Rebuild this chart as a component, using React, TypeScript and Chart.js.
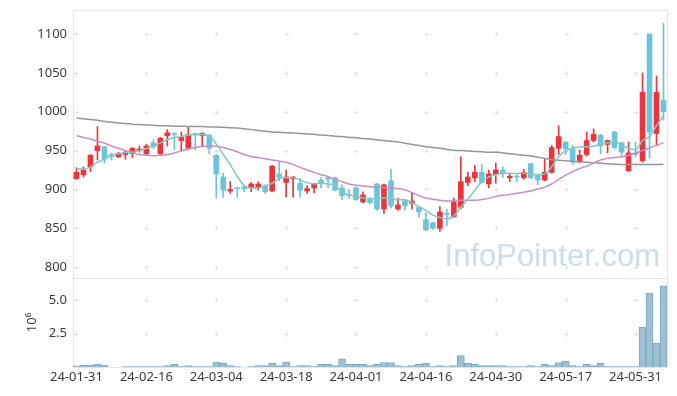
import React, { useEffect, useRef } from 'react';
import { Chart, registerables } from 'chart.js';

Chart.register(...registerables);

const dates = [
  '24-01-31', '24-02-01', '24-02-02', '24-02-05', '24-02-06', '24-02-07', '24-02-08', '24-02-13', '24-02-14', '24-02-15',
  '24-02-16', '24-02-19', '24-02-20', '24-02-21', '24-02-22', '24-02-23', '24-02-26', '24-02-27', '24-02-28', '24-02-29',
  '24-03-04', '24-03-05', '24-03-06', '24-03-07', '24-03-08', '24-03-11', '24-03-12', '24-03-13', '24-03-14', '24-03-15',
  '24-03-18', '24-03-19', '24-03-20', '24-03-21', '24-03-22', '24-03-25', '24-03-26', '24-03-27', '24-03-28', '24-03-29',
  '24-04-01', '24-04-02', '24-04-03', '24-04-04', '24-04-05', '24-04-08', '24-04-09', '24-04-11', '24-04-12', '24-04-15',
  '24-04-16', '24-04-17', '24-04-18', '24-04-19', '24-04-22', '24-04-23', '24-04-24', '24-04-25', '24-04-26', '24-04-29',
  '24-04-30', '24-05-02', '24-05-03', '24-05-07', '24-05-08', '24-05-09', '24-05-10', '24-05-13', '24-05-14', '24-05-16',
  '24-05-17', '24-05-20', '24-05-21', '24-05-22', '24-05-23', '24-05-24', '24-05-27', '24-05-28', '24-05-29', '24-05-30',
  '24-05-31', '24-06-03', '24-06-04', '24-06-05', '24-06-07',
];

const openP = [
  914, 919, 929, 950, 955, 945, 942, 945, 946, 950,
  946, 960, 946, 969, 972, 963, 953, 972, 969, 970,
  944, 916, 898, 902, 903, 902, 902, 904, 898, 920,
  909, 914, 908, 898, 902, 912, 915, 915, 902, 893,
  902, 884, 888, 907, 875, 911, 875, 885, 882, 877,
  861, 857, 850, 869, 865, 877, 909, 915, 922, 907,
  919, 925, 915, 917, 915, 933, 919, 912, 922, 953,
  961, 952, 936, 945, 963, 970, 958, 974, 960, 924,
  947, 937, 1100, 972, 1015,
];
const highP = [
  928, 929, 945, 981, 955, 947, 948, 950, 954, 956,
  958, 964, 967, 977, 973, 974, 981, 973, 973, 971,
  945, 921, 910, 903, 904, 909, 910, 906, 931, 935,
  925, 917, 914, 905, 908, 916, 916, 916, 906, 900,
  903, 897, 890, 908, 907, 926, 889, 886, 896, 878,
  870, 858, 878, 874, 889, 942, 922, 931, 932, 925,
  934, 929, 921, 919, 926, 934, 920, 939, 957, 982,
  962, 957, 951, 974, 978, 971, 964, 975, 961, 961,
  961, 1050, 1100, 1046, 1114,
];
const lowP = [
  913, 916, 923, 938, 934, 938, 941, 939, 941, 948,
  944, 953, 944, 956, 951, 950, 951, 951, 955, 946,
  889, 890, 895, 890, 897, 897, 899, 895, 897, 911,
  890, 890, 890, 895, 896, 902, 902, 898, 887, 888,
  886, 883, 881, 873, 869, 876, 873, 873, 875, 864,
  847, 849, 846, 853, 864, 875, 905, 910, 908, 902,
  908, 915, 910, 910, 913, 914, 906, 911, 921, 945,
  945, 932, 934, 943, 961, 946, 947, 952, 944, 923,
  942, 935, 940, 956, 989,
];
const closeP = [
  922, 925, 944, 956, 939, 942, 946, 948, 953, 952,
  956, 955, 966, 973, 971, 967, 971, 970, 972, 953,
  920, 899, 900, 901, 901, 907, 907, 897, 930, 916,
  916, 916, 899, 901, 907, 908, 913, 899, 892, 892,
  887, 893, 883, 875, 906, 879, 880, 879, 885, 871,
  848, 850, 871, 868, 884, 910, 916, 922, 909, 920,
  925, 922, 917, 916, 922, 915, 912, 922, 954, 968,
  952, 936, 944, 963, 971, 956, 963, 954, 948, 947,
  945, 1025, 974, 1025, 1000,
];

// volume in shares
const volume = [
  80000, 140000, 140000, 200000, 120000, 0, 0, 40000, 40000, 40000,
  40000, 40000, 40000, 110000, 200000, 40000, 110000, 40000, 40000, 40000,
  370000, 280000, 110000, 30000, 0, 30000, 110000, 110000, 280000, 110000,
  370000, 40000, 110000, 110000, 40000, 200000, 200000, 110000, 620000, 200000,
  200000, 200000, 110000, 200000, 340000, 340000, 110000, 30000, 110000, 200000,
  280000, 30000, 110000, 30000, 110000, 860000, 280000, 200000, 110000, 110000,
  110000, 110000, 30000, 30000, 30000, 110000, 30000, 200000, 110000, 340000,
  430000, 110000, 30000, 200000, 110000, 280000, 30000, 30000, 30000, 30000,
  30000, 3000000, 5550000, 1800000, 6100000,
];

const ma5 = [
  927, 926, 929, 935, 939, 944, 946, 947.5, 948, 950,
  953, 955.5, 960, 964, 967, 968, 970, 971, 970.5, 968.5,
  958.5, 945, 932, 917, 905, 902, 902, 905, 908, 914,
  915, 915.5, 912, 909, 907, 908, 907, 905, 897, 893,
  891, 889, 887.5, 888, 889, 888, 886.6, 886.6, 883, 878,
  873, 867, 864, 862, 866, 877, 887.5, 899, 910, 916,
  919, 921, 920.5, 920.5, 921, 920, 918.7, 920, 929, 942,
  950, 953, 954.5, 955, 956, 958, 960, 962, 957, 953,
  951, 963, 968, 982, 995,
];
const ma20 = [
  969, 967, 965, 962, 959.5, 956, 953, 950, 947.5, 945,
  944, 943.5, 944, 945, 947, 949.5, 952, 954, 955.5, 956,
  955.5, 954, 951.5, 948.5, 945, 942.5, 941, 939.5, 938, 936.5,
  935, 932, 928.5, 925, 922, 919, 916.5, 913, 910, 907,
  905.5, 904.5, 903.5, 903, 902.5, 902, 901, 899.5, 896, 892,
  889, 887.5, 886, 885, 885.5, 886, 886, 886, 887, 888.5,
  891, 892.5, 893.5, 895, 896.5, 898, 900.5, 903, 907, 913,
  918.5, 923, 927, 930, 934, 938, 940, 941, 942, 944,
  947, 950, 953.5, 957, 960,
];
const ma60 = [
  992, 991, 990, 989, 987.5, 986.5, 985.5, 985, 984, 983.5,
  983, 982.5, 982, 982, 981.5, 981.5, 981, 981, 981, 980.5,
  980.5, 980, 979.5, 979, 978, 977, 976, 975, 974, 973.5,
  973, 972.5, 972, 971.5, 971, 970, 969.5, 968.5, 968, 967,
  966.5, 965.5, 965, 964, 963, 962, 961, 959.5, 958, 956.5,
  955, 954, 953, 951.5, 950.5, 950, 949.5, 949, 948.5, 948,
  948, 947, 946, 945, 944, 943, 941.5, 940, 938.5, 937.5,
  937, 936, 935.5, 935, 934.5, 934, 933, 932.5, 932, 932,
  932, 932, 932, 932, 932,
];

const priceTicks = [800, 850, 900, 950, 1000, 1050, 1100];
const volumeTicks = [2500000, 5000000];

const UP = 'rgb(238,52,58)';
const DOWN = 'rgb(106,196,220)';
const TICK_FONT = { family: '"Noto Sans", "Open Sans", sans-serif', size: 13 };
const TEXT_COLOR = '#3a3a3a';

const decorPlugin = {
  id: 'decor',
  beforeDatasetsDraw(chart: any) {
    const { ctx, scales } = chart;
    const x = scales.x;
    const yp = scales.y;
    const yv = scales.yv;
    ctx.save();
    // panel borders
    ctx.strokeStyle = '#e4e4e4';
    ctx.lineWidth = 1;
    const L = Math.round(x.left) + 0.5;
    const R = Math.round(x.right) + 0.5;
    ctx.strokeRect(L, Math.round(yp.top) + 0.5, R - L, Math.round(yp.bottom) - Math.round(yp.top));
    ctx.strokeRect(L, Math.round(yv.top) + 0.5, R - L, Math.round(yv.bottom) - Math.round(yv.top));
    // cross markers at grid intersections
    ctx.strokeStyle = '#dedede';
    const xs: number[] = [];
    for (let i = 0; i < dates.length; i += 10) xs.push(x.getPixelForValue(i));
    const ys: number[] = [];
    yp.ticks.forEach((t: any) => ys.push(yp.getPixelForValue(t.value)));
    yv.ticks.forEach((t: any) => ys.push(yv.getPixelForValue(t.value)));
    ctx.beginPath();
    xs.forEach((px) => {
      ys.forEach((py) => {
        const cx = Math.round(px) + 0.5;
        const cy = Math.round(py) + 0.5;
        ctx.moveTo(cx - 2, cy);
        ctx.lineTo(cx + 2, cy);
        ctx.moveTo(cx, cy - 2);
        ctx.lineTo(cx, cy + 2);
      });
    });
    ctx.stroke();
    // watermark
    ctx.font = '31px "Liberation Sans", Arial, sans-serif';
    ctx.fillStyle = 'rgba(180,206,222,0.7)';
    ctx.textAlign = 'right';
    ctx.textBaseline = 'alphabetic';
    ctx.fillText('InfoPointer.com', x.right - 7, yp.bottom - 12, 218);
    ctx.restore();
  },
};

const noPad = (s: any) => {
  s.paddingTop = 0;
  s.paddingBottom = 0;
  s.paddingLeft = 0;
  s.paddingRight = 0;
};

export default function App() {
  const ref = useRef<HTMLCanvasElement | null>(null);

  useEffect(() => {
    if (!ref.current) return;
    const colors = closeP.map((c, i) => (c >= openP[i] ? UP : DOWN));
    const chart = new Chart(ref.current, {
      type: 'bar',
      data: {
        labels: dates,
        datasets: [
          {
            type: 'line',
            label: 'MA5',
            data: ma5,
            yAxisID: 'y',
            borderColor: 'rgb(128,202,192)',
            borderWidth: 1.5,
            pointRadius: 0,
            cubicInterpolationMode: 'monotone',
            order: 0,
          } as any,
          {
            type: 'line',
            label: 'MA20',
            data: ma20,
            yAxisID: 'y',
            borderColor: 'rgb(202,140,196)',
            borderWidth: 1.5,
            pointRadius: 0,
            cubicInterpolationMode: 'monotone',
            order: 0,
          } as any,
          {
            type: 'line',
            label: 'MA60',
            data: ma60,
            yAxisID: 'y',
            borderColor: 'rgb(150,150,150)',
            borderWidth: 1.5,
            pointRadius: 0,
            cubicInterpolationMode: 'monotone',
            order: 0,
          } as any,
          {
            label: 'body',
            data: openP.map((o, i) => [Math.min(o, closeP[i]), Math.max(o, closeP[i])]),
            yAxisID: 'y',
            backgroundColor: colors,
            borderWidth: 0,
            barThickness: 5,
            minBarLength: 1,
            grouped: false,
            order: 1,
          } as any,
          {
            label: 'wick',
            data: lowP.map((l, i) => [l, highP[i]]),
            yAxisID: 'y',
            backgroundColor: colors,
            borderWidth: 0,
            barThickness: 1,
            grouped: false,
            order: 2,
          } as any,
          {
            label: 'volume',
            data: volume,
            yAxisID: 'yv',
            backgroundColor: 'rgb(157,193,211)',
            borderColor: 'rgb(122,167,190)',
            borderWidth: 1,
            barPercentage: 1,
            categoryPercentage: 1,
            grouped: false,
            order: 3,
          } as any,
        ],
      },
      options: {
        animation: false,
        responsive: false,
        maintainAspectRatio: false,
        layout: { padding: { top: 10, right: 10, left: 0, bottom: 0 } },
        plugins: { legend: { display: false }, tooltip: { enabled: false } },
        scales: {
          x: {
            type: 'category',
            offset: true,
            grid: { display: false, drawTicks: false },
            border: { display: false },
            ticks: {
              autoSkip: false,
              maxRotation: 0,
              minRotation: 0,
              padding: 2,
              font: TICK_FONT,
              color: TEXT_COLOR,
              callback: (_v: any, i: number) => (i % 10 === 0 ? dates[i] : ''),
            },
            afterFit: (s: any) => { s.height = 29; noPad(s); },
          },
          yv: {
            type: 'linear',
            position: 'left',
            stack: 'panes',
            stackWeight: 1,
            min: 0,
            max: 6680000,
            grid: { display: false, drawTicks: false },
            border: { display: false },
            afterBuildTicks: (s: any) => { s.ticks = volumeTicks.map((v) => ({ value: v })); },
            ticks: {
              padding: 6,
              font: TICK_FONT,
              color: TEXT_COLOR,
              callback: (v: any) => (v / 1000000).toFixed(1),
            },
            title: {
              display: true,
              text: '10\u2076',
              color: TEXT_COLOR,
              font: TICK_FONT,
              padding: { top: 24, bottom: 0 },
            },
            afterFit: (s: any) => { s.width = 73; noPad(s); },
          },
          y: {
            type: 'linear',
            position: 'left',
            stack: 'panes',
            stackWeight: 3.011,
            min: 786,
            max: 1131,
            grid: { display: false, drawTicks: false },
            border: { display: false },
            afterBuildTicks: (s: any) => { s.ticks = priceTicks.map((v) => ({ value: v })); },
            ticks: {
              padding: 6,
              font: TICK_FONT,
              color: TEXT_COLOR,
              callback: (v: any) => String(v),
            },
            afterFit: (s: any) => { s.width = 73; noPad(s); },
          },
        },
      } as any,
      plugins: [decorPlugin],
    });
    return () => chart.destroy();
  }, []);

  return (
    <div style={{ position: 'fixed', left: 0, top: 0, width: 677, height: 396, background: '#fff' }}>
      <canvas ref={ref} width={677} height={396} style={{ display: 'block' }} />
    </div>
  );
}
